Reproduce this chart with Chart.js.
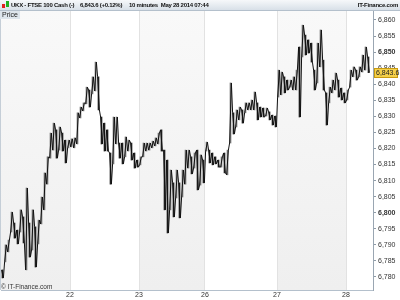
<!DOCTYPE html>
<html>
<head>
<meta charset="utf-8">
<script src="https://cdn.jsdelivr.net/npm/chart.js@4.4.1/dist/chart.umd.min.js"></script>
<style>
    html, body { margin: 0; padding: 0; background: #fff; }
    #wrap { position: relative; width: 400px; height: 300px; overflow: hidden; font-family: "Liberation Sans", Arial, sans-serif; }
    #chart { position: absolute; left: 0; top: 0; }
    #head { position: absolute; left: 0; top: 0; width: 400px; height: 10px; background: linear-gradient(#f6f8fa, #d8e0e8); border-bottom: 1px solid #b4c0cc; font-size: 6px; font-weight: bold; letter-spacing: -0.25px; line-height: 10px; color: #111; white-space: nowrap; }
    #head span { position: absolute; top: 0; }
    .ico { position: absolute; width: 3px; }
    #price-lbl { position: absolute; left: 0; top: 11px; height: 8px; padding: 0 2px; background: #dde5ec; font-size: 7px; line-height: 8px; color: #222; }
    #copy { position: absolute; left: 1px; top: 283px; font-size: 6.5px; line-height: 8px; color: #333; }
</style>
</head>
<body>
<div id="wrap">
    <canvas id="chart" width="400" height="300"></canvas>
    <div id="head">
        <div class="ico" style="left:2px;top:4px;height:4px;background:#e02020"></div>
        <div class="ico" style="left:6px;top:1px;height:6px;background:#20b020"></div>
        <span style="left:11px">UKX - FTSE 100 Cash (-)</span>
        <span style="left:80px">6,843.6 (+0.12%)</span>
        <span style="left:129px">10 minutes&nbsp; May 28 2014 07:44</span>
        <span style="right:2px">IT-Finance.com</span>
    </div>
    <div id="price-lbl">Price</div>
    <div id="copy">© IT-Finance.com</div>
</div>
<script>
// barras de 10 min reagrupadas (máx / mín por coluna)
const highs = [6782.2, 6790.0, 6791.5, 6800.2, 6796.8, 6794.6, 6800.9, 6798.7, 6807.7, 6796.8,
    6800.9, 6795.6, 6797.7, 6804.9, 6812.4, 6817.4, 6824.8, 6827.9, 6825.8, 6826.7,
    6824.8, 6822.6, 6822.6, 6823.0, 6823.3, 6831.1, 6832.9, 6834.2, 6839.1, 6838.2,
    6842.3, 6846.9, 6842.3, 6829.8, 6827.9, 6825.8, 6818.6, 6829.8, 6829.8, 6821.7,
    6821.7, 6823.6, 6822.6, 6821.7, 6818.6, 6816.4, 6817.4, 6821.7, 6821.7, 6821.7,
    6822.3, 6823.3, 6824.8, 6825.8, 6819.5, 6816.4, 6813.3, 6809.3, 6813.3, 6809.3,
    6813.3, 6819.5, 6819.5, 6817.4, 6818.6, 6819.5, 6818.0, 6816.4, 6822.0, 6819.5,
    6818.6, 6817.4, 6816.4, 6817.4, 6818.6, 6819.5, 6840.4, 6831.1, 6832.0, 6832.9,
    6832.0, 6834.2, 6834.2, 6835.1, 6837.6, 6834.2, 6832.9, 6832.6, 6832.6, 6831.4,
    6830.4, 6830.1, 6844.4, 6843.8, 6842.3, 6841.3, 6841.3, 6842.3, 6844.4, 6851.6,
    6858.4, 6855.3, 6853.8, 6852.8, 6844.4, 6852.8, 6856.9, 6847.5, 6837.3, 6839.1,
    6841.3, 6843.5, 6841.3, 6838.8, 6837.3, 6838.2, 6844.4, 6845.4, 6844.4, 6845.4,
    6849.1, 6851.6, 6848.5];
const lows = [6779.7, 6784.7, 6787.8, 6794.0, 6792.1, 6790.3, 6794.0, 6790.6, 6782.2, 6786.2,
    6788.4, 6783.1, 6790.3, 6796.5, 6800.9, 6808.9, 6817.0, 6819.5, 6817.0, 6819.5,
    6819.2, 6815.5, 6820.2, 6820.5, 6820.2, 6821.4, 6829.5, 6831.7, 6833.9, 6832.9,
    6837.0, 6837.9, 6832.0, 6821.4, 6819.2, 6819.2, 6808.9, 6815.2, 6821.4, 6817.0,
    6815.2, 6817.4, 6819.2, 6816.4, 6813.9, 6814.2, 6814.9, 6817.4, 6819.2, 6819.5,
    6820.2, 6820.8, 6821.4, 6819.2, 6800.9, 6793.7, 6800.9, 6798.7, 6804.6, 6798.4,
    6804.9, 6808.9, 6813.9, 6812.1, 6813.9, 6807.1, 6808.6, 6809.3, 6819.2, 6815.5,
    6814.9, 6815.2, 6814.2, 6814.2, 6812.4, 6811.8, 6821.7, 6824.5, 6826.7, 6828.9,
    6827.9, 6831.1, 6832.0, 6832.0, 6832.0, 6828.9, 6829.8, 6829.8, 6830.1, 6828.9,
    6827.3, 6826.7, 6836.0, 6836.7, 6837.3, 6838.2, 6839.1, 6838.2, 6838.2, 6829.8,
    6848.5, 6849.1, 6849.7, 6846.9, 6838.2, 6840.4, 6845.4, 6838.2, 6827.3, 6834.2,
    6837.3, 6838.2, 6836.0, 6835.1, 6834.2, 6835.1, 6839.1, 6842.3, 6841.3, 6842.3,
    6843.8, 6844.4, 6843.6];

// primeira barra de cada dia e o rótulo do eixo
const dayStart = [23, 46, 68, 92, 115];
const dayLabels = ['22', '23', '26', '27', '28'];
const yTicks = [6780, 6785, 6790, 6795, 6800, 6805, 6810, 6815, 6820, 6825, 6830, 6835, 6840, 6845, 6850, 6855, 6860];
const lastPrice = 6843.6;
const slots = 124;

const mid = i => (highs[i] + lows[i]) / 2;
const isUp = i => i > 0 && mid(i) >= mid(i - 1);
const bars = highs.map((h, i) => ({ x: i, y: [lows[i], h] }));
// traço em zigue-zague: mínima -> máxima nas colunas em alta, o inverso nas em baixa
const zigzag = [];
highs.forEach((h, i) => {
    const first = isUp(i) ? lows[i] : h;
    const second = isUp(i) ? h : lows[i];
    zigzag.push({ x: i - 0.3, y: first }, { x: i + 0.3, y: second });
});

// fundo alternado por dia
const dayShading = {
    id: 'dayShading',
    beforeDraw(chart) {
        const { ctx, chartArea: a, scales: { x } } = chart;
        const edges = [-0.5, ...dayStart.map(d => d - 0.5), slots - 0.5];
        const grad = ctx.createLinearGradient(0, a.top, 0, a.bottom);
        grad.addColorStop(0, '#f9f9f9');
        grad.addColorStop(1, '#efefef');
        ctx.save();
        ctx.fillStyle = grad;
        for (let k = 0; k < edges.length - 1; k += 2) {
            const x0 = x.getPixelForValue(edges[k]);
            const x1 = x.getPixelForValue(edges[k + 1]);
            ctx.fillRect(x0, a.top, x1 - x0, a.bottom - a.top);
        }
        ctx.fillStyle = '#c5ced7';
        ctx.fillRect(0, a.top, 1, a.bottom - a.top);
        ctx.restore();
    }
};

// etiqueta amarela do último preço
const lastTag = {
    id: 'lastTag',
    afterDraw(chart) {
        const { ctx, chartArea: a, scales: { y } } = chart;
        const py = Math.round(y.getPixelForValue(lastPrice));
        ctx.save();
        ctx.fillStyle = '#f5d04a';
        ctx.fillRect(a.right + 1, py - 5, 24, 10);
        ctx.strokeStyle = '#c89a10';
        ctx.lineWidth = 1;
        ctx.strokeRect(a.right + 1.5, py - 4.5, 23, 9);
        ctx.fillStyle = '#222';
        ctx.font = '7px "Liberation Sans", Arial, sans-serif';
        ctx.textBaseline = 'middle';
        ctx.fillText(lastPrice.toLocaleString('en-US', { minimumFractionDigits: 1 }), a.right + 3, py + 0.5);
        ctx.restore();
    }
};

new Chart(document.getElementById('chart'), {
    type: 'bar',
    data: {
        datasets: [{
            type: 'line',
            data: zigzag,
            borderColor: '#111',
            borderWidth: 1,
            pointRadius: 0,
            tension: 0,
            order: 0
        }, {
            data: bars,
            barThickness: 1,
            backgroundColor: c => isUp(c.dataIndex) ? '#7a7a7a' : '#222',
            borderWidth: 0,
            order: 1
        }]
    },
    options: {
        responsive: false,
        animation: false,
        layout: { padding: { left: 1, top: 11, right: 0, bottom: 0 } },
        plugins: { legend: { display: false }, tooltip: { enabled: false } },
        scales: {
            x: {
                type: 'linear', min: -0.5, max: slots - 0.5, offset: false, bounds: 'data',
                grid: { offset: false, color: '#e2e2e2', drawTicks: false },
                border: { color: '#b4c0cc' },
                ticks: { autoSkip: false, maxRotation: 0, padding: 1, color: '#333', font: { size: 7, family: '"Liberation Sans", Arial, sans-serif' }, callback: (v, i) => dayLabels[i] },
                afterBuildTicks: s => { s.ticks = dayStart.map(d => ({ value: d - 0.5 })); },
                afterFit: s => { s.height = 10; }
            },
            y: {
                position: 'right', min: 6775.95, max: 6862.8, bounds: 'data',
                grid: { drawOnChartArea: false, drawTicks: true, tickLength: 3, color: '#8f9ba7' },
                border: { color: '#9aa6b2' },
                ticks: {
                    padding: 2, color: '#333',
                    font: c => ({ size: 7, family: '"Liberation Sans", Arial, sans-serif', weight: (c.tick && c.tick.value % 50 === 0) ? 'bold' : 'normal' }),
                    callback: v => v.toLocaleString('en-US')
                },
                afterBuildTicks: s => { s.ticks = yTicks.map(v => ({ value: v })); },
                afterFit: s => { s.width = 27; }
            }
        }
    },
    plugins: [dayShading, lastTag]
});
</script>
</body>
</html>
